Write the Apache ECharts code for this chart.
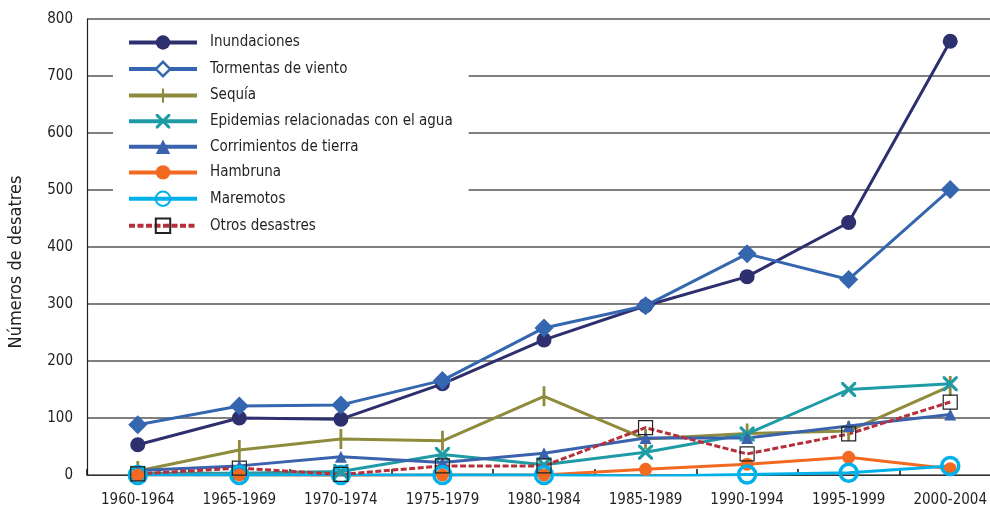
<!DOCTYPE html>
<html>
<head>
<meta charset="utf-8">
<script src="https://cdn.jsdelivr.net/npm/echarts@6/dist/echarts.min.js"></script>
<style>
  html, body { margin: 0; padding: 0; background: #fff; }
  #chart { width: 990px; height: 517px; }
</style>
</head>
<body>
<div id="chart"></div>
<script>
const periods = ['1960-1964', '1965-1969', '1970-1974', '1975-1979', '1980-1984', '1985-1989', '1990-1994', '1995-1999', '2000-2004'];

const inundaciones = [53, 100, 98, 160, 237, 297, 348, 443, 761];
const tormentas = [88, 121, 123, 166, 258, 297, 388, 343, 501];
const sequia = [7, 44, 63, 60, 138, 63, 73, 77, 156];
const epidemias = [3, 3, 6, 36, 18, 40, 72, 150, 160];
const corrimientos = [8, 16, 32, 22, 38, 65, 65, 86, 106];
const hambruna = [0, 0, -1, 0, 0, 10, 19, 31, 11];
const maremotos = [0, 0, 0, 0, 0, -2, 1, 4, 16];
const otros = [2, 12, 1, 16, 16, 83, 37, 72, 128];

const yTicks = [0, 100, 200, 300, 400, 500, 600, 700, 800];

const font = '"Liberation Sans Narrow", "DejaVu Sans Condensed", sans-serif';
const textColor = '#231f20';

// marker shapes; the zero-area first segment keeps a square bounding box
const crossPath = 'path://M0,0L3,0L10,7L17,0L20,0L20,3L13,10L20,17L20,20L17,20L10,13L3,20L0,20L0,17L7,10L0,3Z';
const barPath = 'path://M0,10L20,10ZM8.6,0L11.4,0L11.4,20L8.6,20Z';

function lineSeries(name, data, color, symbol, symbolSize, extra) {
    return Object.assign({
        name: name,
        type: 'line',
        data: data,
        symbol: symbol,
        symbolSize: symbolSize,
        showAllSymbol: true,
        animation: false,
        lineStyle: { color: color, width: 3 },
        itemStyle: { color: color }
    }, extra || {});
}

const chart = echarts.init(document.getElementById('chart'));

chart.setOption({
    animation: false,
    textStyle: { fontFamily: font },
    grid: { left: 87, top: 19, bottom: 42, right: -11, outerBoundsMode: 'none' },
    legend: {
        orient: 'vertical',
        left: 113,
        top: 22,
        padding: [13, 16, 6, 14],
        backgroundColor: '#fff',
        itemWidth: 68,
        itemHeight: 18,
        itemGap: 10.6,
        lineStyle: { width: 4 },
        textStyle: { fontFamily: font, fontSize: 15, color: textColor, padding: [0, 0, 0, 8] },
        data: [
            'Inundaciones',
            { name: 'Tormentas de viento', itemStyle: { color: '#fff', borderColor: '#3566b0', borderWidth: 2.5 } },
            'Sequía',
            'Epidemias relacionadas con el agua',
            'Corrimientos de tierra',
            'Hambruna',
            'Maremotos',
            'Otros desastres'
        ]
    },
    xAxis: {
        type: 'category',
        data: periods,
        boundaryGap: true,
        axisLine: { lineStyle: { color: '#333', width: 1 } },
        axisTick: { show: true, inside: true, length: 6, interval: 0, lineStyle: { color: '#111', width: 1.5 } },
        axisLabel: { color: textColor, fontSize: 15, margin: 18, fontFamily: font, interval: 0 }
    },
    yAxis: {
        type: 'value',
        min: 0,
        max: 800,
        interval: 100,
        name: 'Números de desatres',
        nameLocation: 'middle',
        nameGap: 62,
        nameTextStyle: { color: textColor, fontSize: 18, fontFamily: font, padding: [0, 30, 0, 0] },
        axisLine: { show: true, lineStyle: { color: '#222', width: 1.2 } },
        axisTick: { show: false },
        axisLabel: { color: textColor, fontSize: 15, margin: 14, fontFamily: font },
        splitLine: { lineStyle: { color: '#555', width: 1.5 } }
    },
    series: [
        lineSeries('Inundaciones', inundaciones, '#2e2f6e', 'circle', 15),
        lineSeries('Tormentas de viento', tormentas, '#3566b0', 'diamond', 19),
        lineSeries('Sequía', sequia, '#8e8b3c', barPath, 20),
        lineSeries('Epidemias relacionadas con el agua', epidemias, '#1e9ba5', crossPath, 15),
        lineSeries('Corrimientos de tierra', corrimientos, '#3a62ad', 'triangle', 12),
        lineSeries('Hambruna', hambruna, '#f26a21', 'circle', 13),
        lineSeries('Maremotos', maremotos, '#00b1e9', 'circle', 17, {
            itemStyle: { color: 'rgba(255,255,255,0)', borderColor: '#00b1e9', borderWidth: 3.5 }
        }),
        lineSeries('Otros desastres', otros, '#b5303a', 'rect', 14, {
            lineStyle: { color: '#b5303a', width: 3, type: [6, 2.5] },
            itemStyle: { color: 'rgba(255,255,255,0)', borderColor: '#222', borderWidth: 1.2 }
        })
    ]
});
</script>
</body>
</html>
